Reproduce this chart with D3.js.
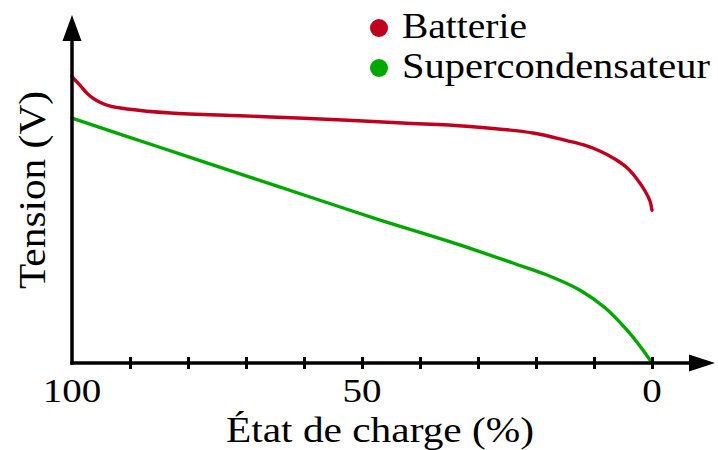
<!DOCTYPE html>
<html><head><meta charset="utf-8">
<script src="https://cdn.jsdelivr.net/npm/d3@7"></script>
<style>
body{margin:0;background:#fff}
svg{display:block}
text{font-family:"Liberation Serif","Times New Roman",serif;fill:#000}
</style>
</head><body>
<svg id="chart" width="718" height="450"></svg>
<script>
// State of charge (%) and voltage (arbitrary volts)
const batterySoc = [100, 98.6, 97.4, 96.4, 95.2, 93.4, 90.5, 83, 71, 60, 43, 32, 20.5, 14.7, 11.5, 9, 6.4, 4.3, 2.6, 1.2, 0.35, 0];
const batteryV   = [3.58, 3.47, 3.37, 3.31, 3.26, 3.21, 3.175, 3.125, 3.09, 3.06, 3.00, 2.96, 2.875, 2.78, 2.72, 2.65, 2.55, 2.44, 2.30, 2.15, 2.025, 1.91];
const superSoc   = [100, 85, 70, 60, 47, 35, 24, 18.1, 12.4, 8.1, 4.3, 1.7, 0];
const superV     = [3.06, 2.70, 2.34, 2.10, 1.79, 1.52, 1.25, 1.10, 0.91, 0.69, 0.41, 0.175, 0];
const seriesNames  = ["Batterie", "Supercondensateur"];
const seriesColors = ["#c0001c", "#00a800"];
const tickValues   = [90, 80, 70, 60, 50, 40, 30, 20, 10, 0];
const tickLabels   = [100, 50, 0];
const xTitle = "État de charge (%)";
const yTitle = "Tension (V)";

const svg = d3.select("#chart");
const x = d3.scaleLinear().domain([100, 0]).range([72, 652]);
const y = d3.scaleLinear().domain([0, 4]).range([363, 43]);

const line = d3.line().x(d => x(d[0])).y(d => y(d[1])).curve(d3.curveCatmullRom.alpha(0.5));
const series = [
  d3.zip(batterySoc, batteryV),
  d3.zip(superSoc, superV)
];

// curves
svg.selectAll("path.series").data(series).join("path")
  .attr("class", "series")
  .attr("d", line)
  .attr("fill", "none")
  .attr("stroke", (d, i) => seriesColors[i])
  .attr("stroke-width", 3.4)
  .attr("stroke-linecap", "round");

// axes lines with arrows
const x0 = x(100), y0 = y(0);
svg.append("line").attr("x1", x0).attr("y1", y0 + 1.7).attr("x2", x0).attr("y2", 38)
  .attr("stroke", "#000").attr("stroke-width", 3.5);
svg.append("line").attr("x1", x0 - 1.7).attr("y1", y0).attr("x2", 692).attr("y2", y0)
  .attr("stroke", "#000").attr("stroke-width", 3.5);
svg.append("path").attr("d", `M${x0 - 9.5},41 L${x0},15 L${x0 + 9.5},41 Z`).attr("fill", "#000");
svg.append("path").attr("d", `M689,${y0 - 8.5} L715,${y0} L689,${y0 + 8.5} Z`).attr("fill", "#000");

// ticks
const xAxis = d3.axisBottom(x).tickValues(tickValues).tickSize(6).tickFormat("");
const gx = svg.append("g").attr("transform", `translate(0,${y0})`).call(xAxis);
gx.select(".domain").remove();
gx.selectAll(".tick line").attr("y1", -6).attr("y2", 6).attr("stroke", "#000").attr("stroke-width", 3);

// tick labels
svg.selectAll("text.tl").data(tickLabels).join("text")
  .attr("class", "tl")
  .attr("x", d => x(d)).attr("y", 402)
  .attr("text-anchor", "middle")
  .attr("font-size", 34)
  .attr("textLength", d => String(d).length * 19.5)
  .attr("lengthAdjust", "spacingAndGlyphs")
  .text(d => d);

// axis titles
svg.append("text").attr("x", 380).attr("y", 442).attr("text-anchor", "middle")
  .attr("font-size", 35).attr("textLength", 308).attr("lengthAdjust", "spacingAndGlyphs").text(xTitle);
svg.append("text").attr("transform", "translate(45,190) rotate(-90)").attr("text-anchor", "middle")
  .attr("font-size", 37).attr("textLength", 198).attr("lengthAdjust", "spacingAndGlyphs").text(yTitle);

// legend
const lg = svg.selectAll("g.lg").data(seriesNames).join("g").attr("class", "lg")
  .attr("transform", (d, i) => `translate(379,${28 + i * 40})`);
lg.append("circle").attr("r", 9).attr("fill", (d, i) => seriesColors[i]);
lg.append("text").attr("x", 23).attr("y", 10).attr("font-size", 36)
  .attr("textLength", (d, i) => [125, 308][i]).attr("lengthAdjust", "spacingAndGlyphs")
  .text(d => d);
</script>
</body></html>
